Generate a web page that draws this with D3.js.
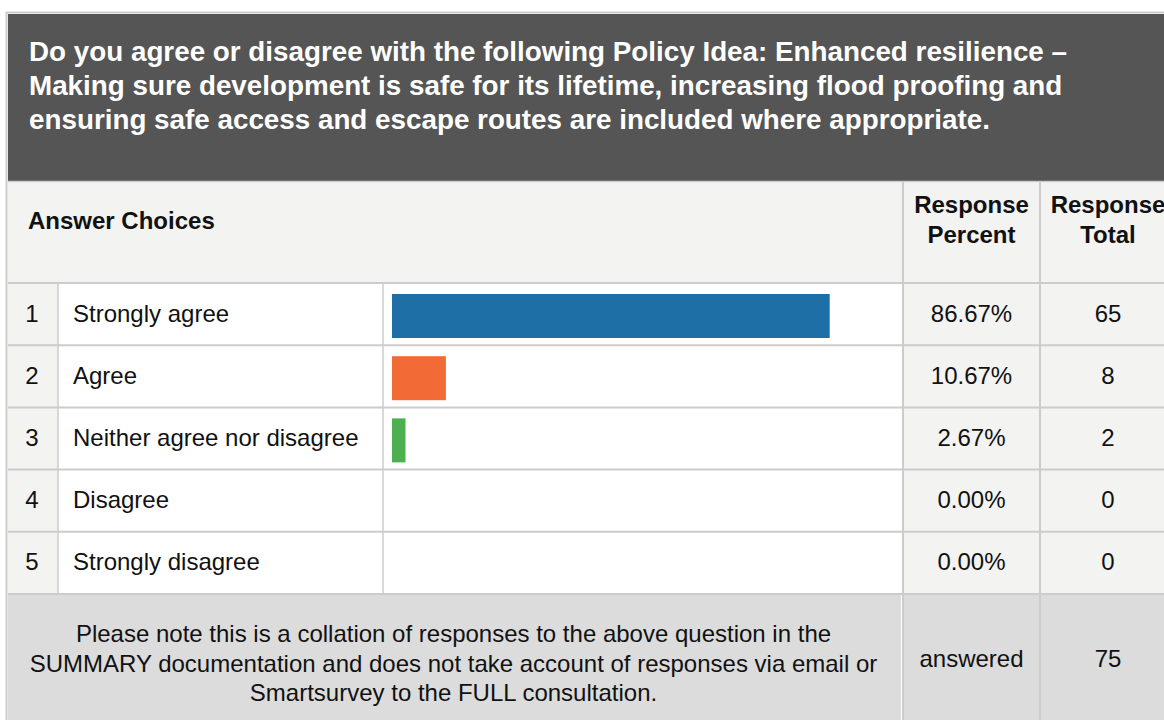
<!DOCTYPE html>
<html>
<head>
<meta charset="utf-8">
<script src="https://cdn.jsdelivr.net/npm/d3@7"></script>
<style>
  html, body { margin: 0; padding: 0; background: #ffffff; }
  svg { display: block; }
  text { font-family: "Liberation Sans", Arial, Helvetica, sans-serif; }
</style>
</head>
<body>
<svg id="chart" width="1164" height="720"></svg>
<script>
// ---- data ----
const titleLines = [
  "Do you agree or disagree with the following Policy Idea: Enhanced resilience \u2013",
  "Making sure development is safe for its lifetime, increasing flood proofing and",
  "ensuring safe access and escape routes are included where appropriate."
];
const rowNumbers = [1, 2, 3, 4, 5];
const categories = ["Strongly agree", "Agree", "Neither agree nor disagree", "Disagree", "Strongly disagree"];
const percents = [86.67, 10.67, 2.67, 0.00, 0.00];
const totals = [65, 8, 2, 0, 0];
const barColors = ["#1d6fa5", "#f26a35", "#4db050", "#8a8a8a", "#b0b0b0"];
const headerAnswer = "Answer Choices";
const headerPercent = ["Response", "Percent"];
const headerTotal = ["Response", "Total"];
const footerNote = [
  "Please note this is a collation of responses to the above question in the",
  "SUMMARY documentation and does not take account of responses via email or",
  "Smartsurvey to the FULL consultation."
];
const answeredLabel = "answered";
const answeredTotal = 75;

// ---- layout ----
const svg = d3.select("#chart");
const W = 1164, H = 720;
const padL = 8, padT = 14;
const titleBottom = 181;
const headerBottom = 283;
const bodyBottom = 594;
const colNum = [8, 58], colLabel = [58, 383], colBar = [383, 903], colPct = [903, 1040], colTot = [1040, 1176];
const grid = "#cccccc", light = "#f3f3f2", footBg = "#dcdcdc";
const fs = 24;

// outer border
svg.append("rect").attr("x", 6.5).attr("y", 12.5).attr("width", W).attr("height", H)
  .attr("fill", "#ffffff").attr("stroke", grid).attr("stroke-width", 2);

// title block
svg.append("rect").attr("x", padL).attr("y", padT).attr("width", W - padL).attr("height", titleBottom - padT)
  .attr("fill", "#545554");
svg.append("g").selectAll("text").data(titleLines).join("text")
  .attr("x", 29).attr("y", (d, i) => 61 + i * 33.8)
  .attr("fill", "#ffffff").attr("font-weight", "bold").attr("font-size", 27.8)
  .text(d => d);

// header
svg.append("rect").attr("x", padL).attr("y", titleBottom + 1.5).attr("width", W - padL).attr("height", headerBottom - titleBottom - 1.5)
  .attr("fill", light);
svg.append("line").attr("x1", padL).attr("x2", W).attr("y1", titleBottom + 0.5).attr("y2", titleBottom + 0.5)
  .attr("stroke", grid).attr("stroke-width", 1.5);
svg.append("text").attr("x", 28).attr("y", 229).attr("font-weight", "bold").attr("font-size", fs)
  .attr("fill", "#111").text(headerAnswer);
const pctC = (colPct[0] + colPct[1]) / 2, totC = 1108;
svg.append("g").selectAll("text").data(headerPercent).join("text")
  .attr("x", pctC).attr("y", (d, i) => 213 + i * 29.5).attr("text-anchor", "middle")
  .attr("font-weight", "bold").attr("font-size", fs).attr("fill", "#111").text(d => d);
svg.append("g").selectAll("text").data(headerTotal).join("text")
  .attr("x", totC).attr("y", (d, i) => 213 + i * 29.5).attr("text-anchor", "middle")
  .attr("font-weight", "bold").attr("font-size", fs).attr("fill", "#111").text(d => d);

// scales
const y = d3.scaleBand().domain(categories).range([headerBottom, bodyBottom]).paddingInner(0).paddingOuter(0);
const x = d3.scaleLinear().domain([0, 100]).range([392, 897]);

// body row backgrounds
const rows = svg.append("g").selectAll("g").data(categories).join("g")
  .attr("transform", d => `translate(0,${y(d)})`);
rows.append("rect").attr("x", colNum[0]).attr("width", colNum[1] - colNum[0]).attr("height", y.bandwidth()).attr("fill", light);
rows.append("rect").attr("x", colLabel[0]).attr("width", colBar[1] - colLabel[0]).attr("height", y.bandwidth()).attr("fill", "#ffffff");
rows.append("rect").attr("x", colPct[0]).attr("width", W - colPct[0]).attr("height", y.bandwidth()).attr("fill", light);

// bars
rows.append("rect")
  .attr("x", x(0)).attr("y", 11).attr("height", 44)
  .attr("width", (d, i) => x(percents[i]) - x(0))
  .attr("fill", (d, i) => barColors[i]);

// row texts
rows.append("text").attr("x", 32).attr("y", 38.5).attr("text-anchor", "middle")
  .attr("font-size", fs).attr("fill", "#111").text((d, i) => rowNumbers[i]);
rows.append("text").attr("x", 73).attr("y", 38.5)
  .attr("font-size", fs).attr("fill", "#111").text(d => d);
rows.append("text").attr("x", pctC).attr("y", 38.5).attr("text-anchor", "middle")
  .attr("font-size", fs).attr("fill", "#111").text((d, i) => d3.format(".2f")(percents[i]) + "%");
rows.append("text").attr("x", totC).attr("y", 38.5).attr("text-anchor", "middle")
  .attr("font-size", fs).attr("fill", "#111").text((d, i) => totals[i]);

// horizontal grid lines
const hLines = [headerBottom].concat(categories.map(d => y(d) + y.bandwidth()));
svg.append("g").selectAll("line").data(hLines).join("line")
  .attr("x1", padL).attr("x2", W).attr("y1", d => d).attr("y2", d => d)
  .attr("stroke", grid).attr("stroke-width", 2);

// vertical grid lines in body
svg.append("g").selectAll("line").data([colNum[1], colBar[0]]).join("line")
  .attr("x1", d => d).attr("x2", d => d).attr("y1", headerBottom).attr("y2", bodyBottom)
  .attr("stroke", grid).attr("stroke-width", 1.5);
svg.append("g").selectAll("line").data([colPct[0], colTot[0]]).join("line")
  .attr("x1", d => d).attr("x2", d => d).attr("y1", titleBottom + 1).attr("y2", H)
  .attr("stroke", grid).attr("stroke-width", 2);

// footer
const foot = svg.append("g");
foot.append("rect").attr("x", padL).attr("y", bodyBottom + 1).attr("width", colPct[0] - padL - 2).attr("height", H - bodyBottom)
  .attr("fill", footBg);
foot.append("rect").attr("x", colPct[0] + 1).attr("y", bodyBottom + 1).attr("width", colTot[0] - colPct[0] - 2).attr("height", H - bodyBottom)
  .attr("fill", footBg);
foot.append("rect").attr("x", colTot[0] + 1).attr("y", bodyBottom + 1).attr("width", W - colTot[0]).attr("height", H - bodyBottom)
  .attr("fill", footBg);
foot.selectAll("text.note").data(footerNote).join("text").attr("class", "note")
  .attr("x", (padL + colPct[0]) / 2 - 2).attr("y", (d, i) => 642 + i * 29.5).attr("text-anchor", "middle")
  .attr("font-size", fs).attr("fill", "#111").text(d => d);
foot.append("text").attr("x", pctC).attr("y", 667).attr("text-anchor", "middle")
  .attr("font-size", fs).attr("fill", "#111").text(answeredLabel);
foot.append("text").attr("x", totC).attr("y", 667).attr("text-anchor", "middle")
  .attr("font-size", fs).attr("fill", "#111").text(answeredTotal);
</script>
</body>
</html>
